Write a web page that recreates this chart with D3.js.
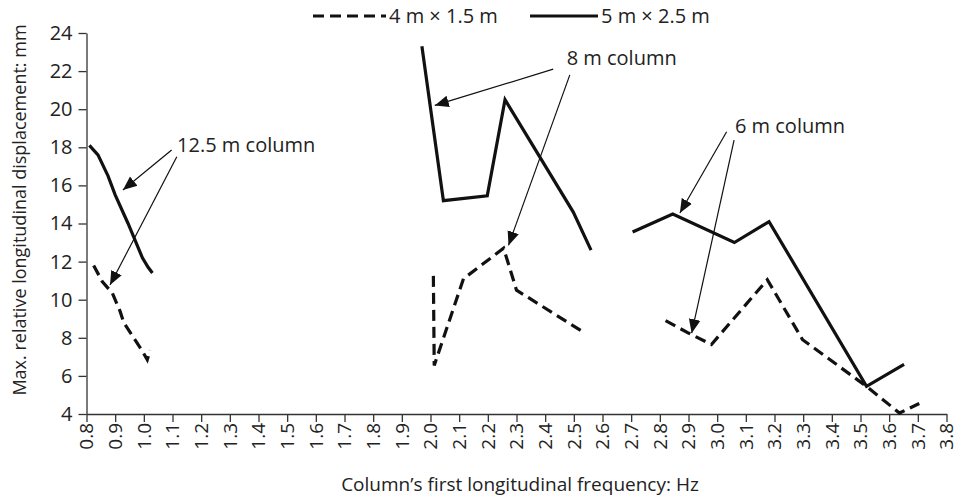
<!DOCTYPE html>
<html>
<head>
<meta charset="utf-8">
<script src="https://cdn.jsdelivr.net/npm/d3@7"></script>
<style>
  html, body { margin: 0; padding: 0; background: #fff; }
  svg text { font-family: "Open Sans", "Noto Sans", sans-serif; fill: #222; }
</style>
</head>
<body>
<svg id="chart" width="954" height="499"></svg>
<script>
// Column's first longitudinal frequency (Hz) vs. max. relative longitudinal displacement (mm)
const seriesNames = ["4 m × 1.5 m", "5 m × 2.5 m"];

// 4 m × 1.5 m (dashed)
const small125 = [[0.825,11.8],[0.855,10.95],[0.89,10.35],[0.917,9.4],[0.93,8.8],[0.993,7.35],[1.012,6.85],[1.022,7.35]];
const small8   = [[2.01,11.25],[2.013,6.55],[2.115,11.1],[2.255,12.7],[2.3,10.5],[2.533,8.3]];
const small6   = [[2.82,8.9],[2.9,8.25],[2.98,7.65],[3.175,11.05],[3.298,7.9],[3.521,5.45],[3.636,4.05],[3.705,4.55]];

// 5 m × 2.5 m (solid)
const large125 = [[0.81,18.1],[0.84,17.6],[0.875,16.5],[0.9,15.5],[0.945,14.0],[0.995,12.2],[1.015,11.7],[1.03,11.4]];
const large8   = [[1.97,23.3],[2.045,15.2],[2.198,15.45],[2.26,20.5],[2.498,14.6],[2.56,12.6]];
const large6   = [[2.705,13.55],[2.845,14.5],[3.06,13.0],[3.181,14.1],[3.521,5.45],[3.652,6.6]];

const xTicks = d3.range(8, 39).map(v => v / 10);
const yTicks = [4, 6, 8, 10, 12, 14, 16, 18, 20, 22, 24];

// Annotation labels and the points their arrows leave from / point to (data units)
const annotations = [
  { label: "12.5 m column", at: [1.116, 17.75], from: [[1.097, 17.86], [1.115, 17.5]], to: [[0.927, 15.76], [0.882, 10.77]] },
  { label: "8 m column",    at: [2.475, 22.32], from: [[2.428, 22.1], [2.486, 21.8]], to: [[2.015, 20.2], [2.272, 12.85]] },
  { label: "6 m column",    at: [3.062, 18.77], from: [[3.033, 18.82], [3.059, 18.38]], to: [[2.87, 14.55], [2.911, 8.24]] }
];

const svg = d3.select("#chart");
const x = d3.scaleLinear().domain([0.8, 3.8]).range([86.5, 946.5]);
const y = d3.scaleLinear().domain([4, 24]).range([414, 33]);

// Axes
const xAxis = svg.append("g").attr("transform", `translate(0,${y(4)})`)
  .call(d3.axisBottom(x).tickValues(xTicks).tickFormat(d3.format(".1f")).tickSize(8).tickSizeOuter(0));
xAxis.selectAll("text")
  .attr("transform", "rotate(-90)")
  .attr("text-anchor", "end")
  .attr("x", -9).attr("y", 0).attr("dy", "0.33em")
  .style("font-size", "19px");

const yAxis = svg.append("g").attr("transform", `translate(${x(0.8)},0)`)
  .call(d3.axisLeft(y).tickValues(yTicks).tickSize(8).tickSizeOuter(0));
yAxis.selectAll("text").attr("x", -14).style("font-size", "20px");

svg.selectAll(".domain, .tick line").attr("stroke", "#333").attr("stroke-width", 1.3);

// Axis titles
svg.append("text")
  .attr("x", 520).attr("y", 491)
  .attr("text-anchor", "middle").style("font-size", "19px")
  .text("Column’s first longitudinal frequency: Hz");
svg.append("text")
  .attr("transform", "translate(26,210) rotate(-90)")
  .attr("text-anchor", "middle").style("font-size", "18px")
  .text("Max. relative longitudinal displacement: mm");

// Data lines
const line = d3.line().x(d => x(d[0])).y(d => y(d[1]));
const dashedStyle = g => g.attr("fill", "none").attr("stroke", "#111").attr("stroke-width", 3.2).attr("stroke-dasharray", "11,6");
const solidStyle  = g => g.attr("fill", "none").attr("stroke", "#111").attr("stroke-width", 3.2).attr("stroke-linejoin", "miter");

[small125, small8, small6].forEach(s => svg.append("path").datum(s).attr("d", line).call(dashedStyle));
[large125, large8, large6].forEach(s => svg.append("path").datum(s).attr("d", line).call(solidStyle));

// Arrow marker
svg.append("defs").append("marker")
  .attr("id", "arrow").attr("viewBox", "0 0 10 10")
  .attr("refX", 10).attr("refY", 5)
  .attr("markerWidth", 14).attr("markerHeight", 14)
  .attr("markerUnits", "userSpaceOnUse")
  .attr("orient", "auto")
  .append("path").attr("d", "M0,0.8 L10,5 L0,9.2 Z").attr("fill", "#111");

// Annotations
annotations.forEach(a => {
  svg.append("text")
    .attr("x", x(a.at[0])).attr("y", y(a.at[1]))
    .style("font-size", "20px")
    .text(a.label);
  a.from.forEach((f, i) => {
    svg.append("line")
      .attr("x1", x(f[0])).attr("y1", y(f[1]))
      .attr("x2", x(a.to[i][0])).attr("y2", y(a.to[i][1]))
      .attr("stroke", "#111").attr("stroke-width", 1.2)
      .attr("marker-end", "url(#arrow)");
  });
});

// Legend
const legend = svg.append("g");
const legendItems = [
  { name: seriesNames[0], dashed: true,  x0: 313, x1: 386, tx: 389 },
  { name: seriesNames[1], dashed: false, x0: 530, x1: 598, tx: 601 }
];
legendItems.forEach(it => {
  const ln = legend.append("line").attr("x1", it.x0).attr("x2", it.x1).attr("y1", 16).attr("y2", 16);
  ln.call(it.dashed ? dashedStyle : solidStyle);
  legend.append("text").attr("x", it.tx).attr("y", 23).style("font-size", "20px").text(it.name);
});
</script>
</body>
</html>
